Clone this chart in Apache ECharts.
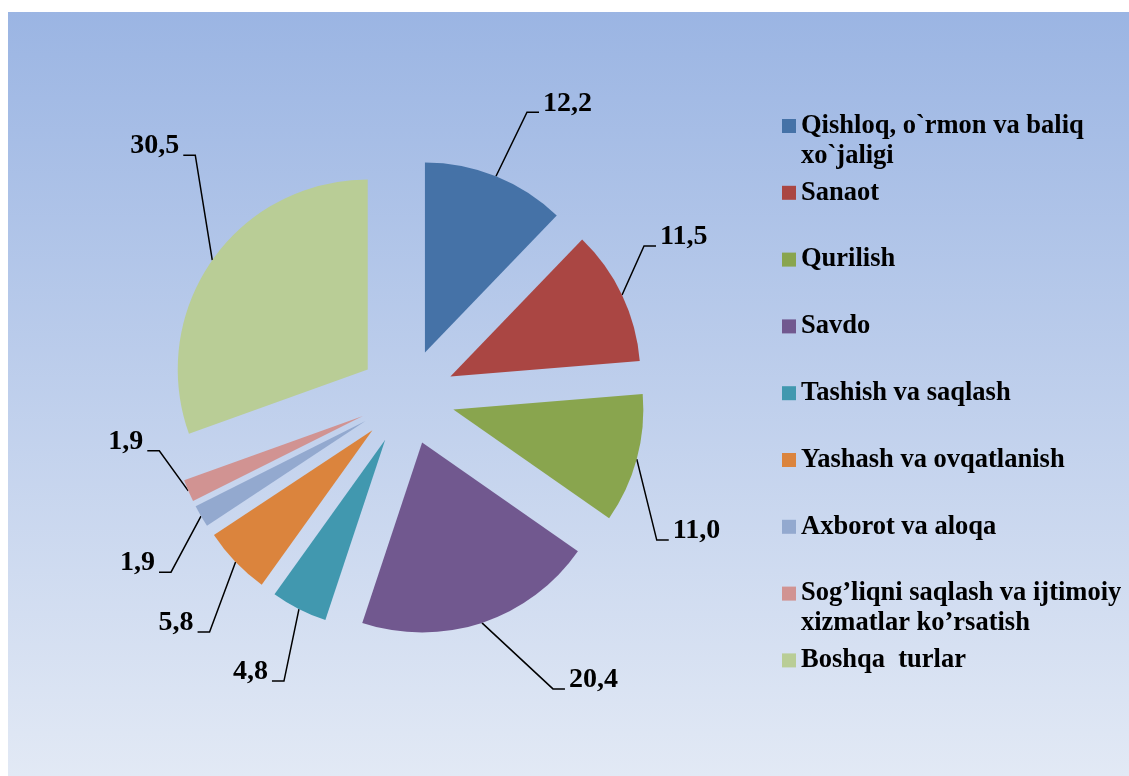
<!DOCTYPE html>
<html>
<head>
<meta charset="utf-8">
<script src="https://cdn.jsdelivr.net/npm/echarts@6/dist/echarts.min.js"></script>
<style>
  html, body { margin: 0; padding: 0; background: #ffffff; }
  #chart { position: absolute; left: 8px; top: 12px; width: 1121px; height: 764px; }
</style>
</head>
<body>
<div id="chart"></div>
<script>
const categories = [
  'Qishloq, o`rmon va baliq\nxo`jaligi',
  'Sanaot',
  'Qurilish',
  'Savdo',
  'Tashish va saqlash',
  'Yashash va ovqatlanish',
  'Axborot va aloqa',
  'Sog’liqni saqlash va ijtimoiy\nxizmatlar ko’rsatish',
  'Boshqa  turlar'
];
const values = [12.2, 11.5, 11.0, 20.4, 4.8, 5.8, 1.9, 1.9, 30.5];
const colors = ['#4572A7', '#AA4643', '#89A54E', '#71588F', '#4198AF', '#DB843D', '#93A9CF', '#D19392', '#B9CD96'];
// leader-line style: first segment of each label line (from the slice edge to the bend), in px
const leaderSegment = [[31, -64], [22, -49], [20, 81], [71, 66], [-15, 72], [-26, 70], [-30, 56], [-29, -40], [-17, -105]];

const RADIUS = 190;
const EXPLODE = 48;
const CENTER = [399, 385];
const chart = echarts.init(document.getElementById('chart'), null, { renderer: 'canvas' });
const font = '"Liberation Serif", "Times New Roman", serif';

chart.setOption({
  animation: false,
  backgroundColor: {
    type: 'linear', x: 0, y: 0, x2: 0, y2: 1,
    colorStops: [
      { offset: 0, color: '#9bb5e3' },
      { offset: 1, color: '#e2e9f5' }
    ]
  },
  color: colors,
  legend: {
    orient: 'vertical',
    left: 769,
    top: 64,
    itemWidth: 14,
    itemHeight: 14,
    itemGap: -23.2,
    icon: 'rect',
    selectedMode: false,
    data: categories,
    formatter: function (name) {
      return name.indexOf('\n') < 0 ? name + '\n ' : name;
    },
    textStyle: {
      fontFamily: font,
      fontWeight: 'bold',
      fontSize: 26.5,
      lineHeight: 30,
      color: '#000',
      padding: [30, 0, 0, 0],
      rich: { z: { fontSize: 26.5 } }
    }
  },
  series: [{
    // visible exploded slices
    type: 'pie',
    center: CENTER,
    radius: RADIUS,
    startAngle: 90,
    clockwise: true,
    selectedMode: 'multiple',
    selectedOffset: EXPLODE,
    emphasis: { disabled: true },
    itemStyle: { borderWidth: 0 },
    label: { show: false },
    labelLine: { show: false },
    data: categories.map(function (c, i) {
      return { name: c, value: values[i], selected: true };
    })
  }, {
    // invisible carrier for the value labels, its edge coincides with the exploded slice edges
    type: 'pie',
    center: CENTER,
    radius: RADIUS + EXPLODE,
    startAngle: 90,
    clockwise: true,
    silent: true,
    selectedMode: false,
    avoidLabelOverlap: false,
    emphasis: { disabled: true },
    itemStyle: { color: 'rgba(0,0,0,0)', borderWidth: 0 },
    label: {
      show: true,
      position: 'outside',
      fontFamily: font,
      fontWeight: 'bold',
      fontSize: 28,
      color: '#000',
      formatter: function (p) { return p.value.toFixed(1).replace('.', ','); }
    },
    labelLine: {
      show: true,
      length: 40,
      length2: 12,
      lineStyle: { color: '#000', width: 1.5 }
    },
    labelLayout: function (p) {
      const a = p.labelLinePoints[0];
      const v = leaderSegment[p.dataIndex];
      const side = v[0] >= 0 ? 1 : -1;
      const bend = [a[0] + v[0], a[1] + v[1]];
      const end = [bend[0] + side * 12, bend[1]];
      return {
        x: end[0] + side * 4,
        y: bend[1] - 9,
        align: side > 0 ? 'left' : 'right',
        verticalAlign: 'middle',
        labelLinePoints: [a, bend, end]
      };
    },
    data: categories.map(function (c, i) {
      return { name: c, value: values[i] };
    })
  }]
});
</script>
</body>
</html>
